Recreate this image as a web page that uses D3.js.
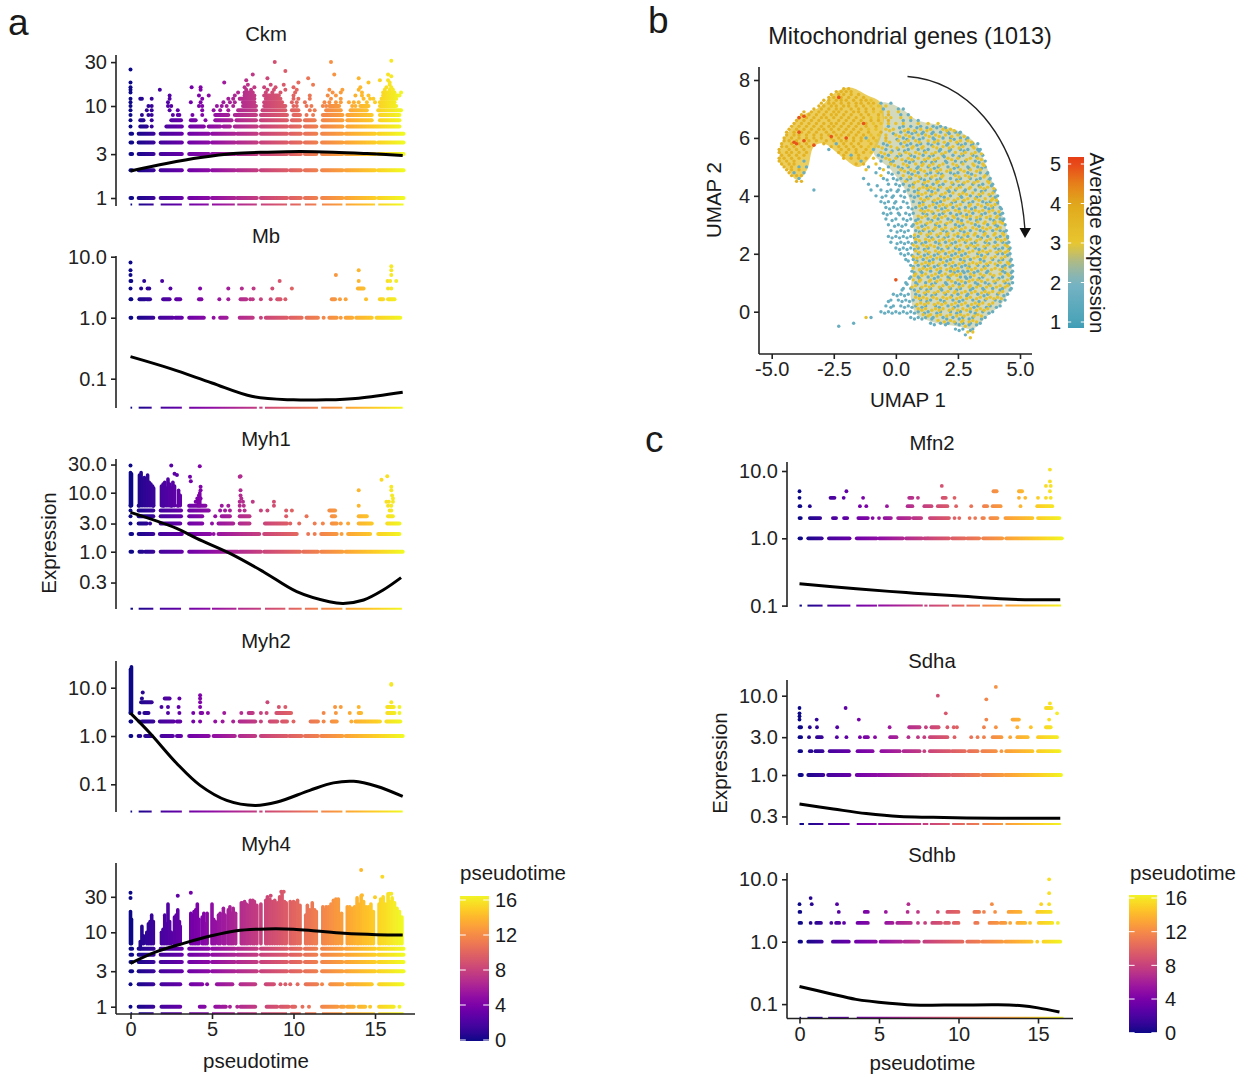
<!DOCTYPE html>
<meta charset="utf-8">
<style>
body { margin: 0; background: #fff; }
text { font-family: "Liberation Sans", Arial, sans-serif; fill: #1a1a1a; }
.axis path, .axis line { stroke: #222; stroke-width: 1.6; fill: none; }
.axis text { font-size: 20px; fill: #222; }
.title { font-size: 20.3px; text-anchor: middle; }
.lab { font-size: 20.5px; text-anchor: middle; }
.letter { font-size: 37px; }
</style>
<body>
<script src="https://d3js.org/d3.v7.min.js"></script>
<script>

// pseudotime stretches occupied by cells, shared by the rows that are solid
var runsA = [[0,.1],[.5,1.42],[1.85,3.15],[3.6,4.8],[5,6.4],[6.55,7.75],[8,9.6],[9.8,10.45],[10.7,11.4],[11.75,13],[13.2,15],[15.2,16.75]];
var runsB = [[0,.1],[.5,1.3],[1.85,3.15],[3.6,7.75],[7.9,8.1],[8.25,11.5],[11.7,13],[13.2,16.7]];
var runsC = [[0,.15],[.5,1.45],[1.75,3.2],[3.57,4.87],[4.95,7.75],[7.85,8.05],[8.15,9.4],[9.57,10.37],[10.5,11.35],[11.5,12.77],[12.95,16.45]];

// rows: [expression, solid runs, single dots]
var ckmRows = [
  [.85,runsA,[]],[1,runsA,[]],[2,runsA,[]],[3,runsA,[]],[4,runsA,[]],[5,runsA,[]],
  [6,[[.6,1],[2.2,3.15],[3.66,4.5],[4.8,5.5],[5.7,6.1],[6.4,7.75],[8,9.6],[9.8,10.4],[10.7,11.4],[11.75,13],[13.3,16.5]],[0,1.3]],
  [7,[[.6,.8],[2.5,3.1],[3.7,4],[5.2,6.2],[6.5,7.7],[8,9.6],[9.9,10.4],[10.7,11.3],[11.8,13],[13.3,14.8],[15.3,16.5]],[0,1.3,4.6]],
  [8,[[5.2,6],[6.4,7.7],[8,9.6],[10,10.4],[11.8,13],[13.3,14.8],[15.3,16.5]],[0,.7,1.1,1.3,2.6,2.9,3,3.8,4.4,10.8,11.2]],
  [9,[[6.6,7.7],[8.1,9.5],[9.9,10.3],[12,12.9],[13.5,14.5],[15.2,16.6]],[0,1,1.3,2.4,2.9,4.4,5.1,5.5,6,11,11.3]],
  [10,[[6.9,7.7],[8.2,9.5],[12.2,12.8],[14.1,14.6],[15.3,16.3]],[0,1.1,1.3,2.3,2.5,4.2,4.4,5.3,5.6,5.9,6.3,10,10.2,10.8,11.1,11.8,12,13.6,13.8]],
  [11,[[6.9,7.6],[8.2,9.3],[15.3,16.2]],[0,2.3,3.7,4.3,5.7,6.1,6.4,9.9,10.2,10.7,11.9,12.2,12.6,12.9,13.4,13.7,14,14.5,15]],
  [12,[[6.7,7.6],[8.3,9.2],[15.4,16.3]],[0,.6,.7,1.3,2.4,4.4,6,6.3,10,10.3,11,12.3,12.9,14.3,14.7,14.9]],
  [13,[[7,7.6],[8.2,9.1],[15.5,16.4]],[2.4,4.2,4.8,6.4,10,11,12.1,12.6,13.8,14.2,14.6,16.5]],
  [14,[[7,7.5],[15.5,16.2]],[0,6.6,8.3,8.7,9.2,10.1,12.4,12.9,14.2,16.6]],
  [15,[],[0,1.8,4.3,7.1,7.4,8.4,8.8,9.5,10.2,12.2,13,14,15.6,15.9,16.1]],
  [16,[],[0,3.75,4.3,7,7.6,8.2,8.9,10,14.1,15.7,16]],
  [17,[],[7.2,8.6,9.4,11.2,15.9]],[18,[],[0,5.75,10.3,14.6,15.9]],[19,[],[7.1,15.3,15.8]],
  [20,[],[8.4,10.9,14]],[21,[],[16]],[22,[],[7.5,12.5,15.8]],[24,[],[9.5]],[25,[],[0]],[30,[],[8.85,12.3]],[31,[],[16]]
];
var ckmCurve = [[0,1.97],[2.2,2.37],[4.3,2.75],[6.3,3.04],[8.4,3.15],[10.4,3.2],[12.45,3.15],[14.5,3.04],[16.7,2.9]];

var mbRows = [
  [.0335,runsB,[]],
  [1,[[.5,1.4],[1.8,2.6],[2.75,3.15],[3.6,4.5],[5.5,5.9],[6.7,7.5],[8.3,9.6],[9.8,10.5],[10.8,11.5],[12.2,12.65],[13.2,13.6],[13.85,14.8],[15.1,16.55]],[0,.05,5.1,8,11.85,12.9]],
  [2,[[.55,.9],[1,1.2],[2,2.4],[2.8,3.05],[4.2,4.35],[6.75,7.1],[9,9.2],[12.35,12.55],[15.3,15.5],[15.8,16.2]],[0,.05,5.45,6,7.35,7.5,8,8.6,9.5,12.85,13.2,14.45]],
  [3,[[13.95,14.3]],[0,.65,1.05,1.15,2.45,4.27,6,6.83,7.55,8.7,9.9,15.8,16]],
  [4,[],[0,.05,.84,1.94,9.15,14,15.77,15.93,16.3]],[5,[],[0,12.6,16]],[6,[],[0,14,16]],[7,[],[16]],[8,[],[0]]
];
var mbCurve = [[0,.23],[2.5,.145],[5,.085],[7.5,.051],[10,.045],[12,.045],[14,.048],[16.7,.06]];

var myh1Rows = [
  [.108,[[0,.15],[.5,1.4],[1.8,3.1],[3.6,4.9],[5,6.5],[6.6,8],[8.25,9.5],[9.7,10.5],[10.7,11.5],[11.7,13],[13.2,16.65]],[]],
  [1,[[0,.1],[.55,.75],[.9,1.4],[1.85,3.15],[3.6,6.6],[6.7,8],[8.2,10.4],[10.6,11.5],[11.7,13],[13.2,16.7]],[]],
  [2,[[0,.1],[.5,1.4],[1.8,3.15],[3.6,4.9],[5.4,7.9],[8.2,10.2],[11.7,12.65],[13.35,14.7],[15.2,16.5]],[5.1,10.9,11.3,12.95]],
  [3,[[.5,1],[1.85,3.05],[3.6,4.4],[5.4,6.3],[6.7,7.3],[8.25,9.6],[12.35,12.65],[14,14.8],[15.75,16.5]],[0,1.2,5,9.8,10.35,11.3,11.8,12.9,13.35]],
  [4,[[.5,1.4],[1.85,3.1],[3.6,4.4],[5.6,6.1],[6.7,7.3],[12.35,12.55],[14,14.5],[15.8,16.1]],[0,5.2,9.55,10.8]],
  [5,[[.5,1.4],[1.85,3.1],[3.6,4.8],[12.2,12.55]],[0,5.5,5.8,6.1,6.7,7,8,8.4,9.55,9.9,15.9,16]],
  [6,[[3.6,4.6]],[0,.5,1.4,2,2.5,2.9,5.6,6,6.7,6.95,8.8,14,15.8,16]],
  [7,[],[4,4.2,6.7,6.9,7.5,8.8,15.7,15.85,16.1]],[8,[],[4.1,4.3,6.8,16.1]],[9,[],[4.2,6.75,16.05]],
  [11,[],[6.75,14,4.3,16]],[12.6,[],[4.3,16]],[15.7,[],[3.7]],[16.5,[],[15.4]],[18.7,[],[3.65,6.7]],[19,[],[6.75,15.75]],
  [20,[],[2.85]],[21,[],[2.7]],[28,[],[4.25]],[29,[],[2.5,0]]
];
var myh1Columns = [[0,6,22],[.06,6,21],[.55,6,20],[.65,6,22],[.75,6,17],[.85,6,18],[.95,6,16],[1.05,6,20],[1.15,6,15],[1.25,6,14],[1.35,6,13],[1.42,6,12],
  [1.9,6,13],[2,6,14],[2.1,6,15],[2.2,6,12],[2.3,6,17],[2.4,6,14],[2.5,6,12],[2.6,6,15],[2.7,6,13],[2.95,6,11],[3.05,6,9],[4.15,6,8],[4.25,6,10]];
var myh1Curve = [[0,4.65],[2.83,2.49],[4.06,1.68],[6.1,.937],[8.15,.458],[10.2,.21],[12.2,.142],[13.05,.133],[14.3,.152],[15.5,.224],[16.6,.363]];

var myh2Rows = [
  [.0273,runsB,[]],
  [1,[[.9,1.3],[1.9,2.6],[2.85,3.1],[3.6,4.8],[5.1,6.4],[6.7,7.65],[8,9.6],[9.75,10.5],[10.7,11.5],[11.7,13],[13.2,16.7]],[0,.05,.5,.6]],
  [2,[[.7,1.4],[1.8,2.65],[2.85,3.05],[6.7,7.65],[8.55,9],[9.3,9.6],[11.05,11.5],[12.35,12.65],[13.8,15.2],[15.7,16.55]],[0,.05,.55,3.85,4.27,5.2,5.65,6.3,8,10,11.85,13.55,15.3]],
  [3,[[.85,1.1],[4.3,4.4],[7.25,7.5],[8.95,9.85],[14,14.15],[15.75,16.2]],[0,.55,2.3,3,3.85,4.75,5.75,6.8,8,8.35,11.85,12.6,13.45,16.5]],
  [4,[[15.75,16.15]],[1.9,2.3,2.95,4.27,9.1,9.5,12.55,12.9,14,16.5]],
  [5,[[.65,1.3]],[4.27,8.4,16]],[6,[[2.1,2.4]],[.7,3,4.27]],[7,[],[4.27]],[8,[],[.75]],[11.5,[],[16]],[12,[],[16]]
];
var myh2Columns = [[0,3,24],[.06,3,27]];
var myh2Curve = [[0,2.97],[1.2,1.14],[2.84,.27],[4.27,.095],[5.9,.0465],[7.65,.0365],[9,.043],[11,.075],[12.45,.107],[13.7,.115],[15.1,.091],[16.7,.056]];

var myh4Rows = [
  [.817,runsA,[]],
  [1,[[.5,1.4],[1.9,3.05],[4.25,4.55],[5.2,5.5],[5.6,5.85],[6.75,7.65],[8.35,9],[9.2,9.7],[9.9,10.1],[11.75,12.7],[12.9,13.1],[13.3,13.7],[14,14.4],[15.25,16.15]],[0,6.1,6.55,10.55,10.95,14.7,16.5]],
  [2,[[.5,1.4],[1.9,3.05],[3.7,4.4],[5.3,6.25],[6.75,7.65],[8.3,8.8],[10.75,11.45],[12.25,13],[13.3,13.7],[13.8,14.8],[15.25,16.7]],[0,4.7,9.2,9.5,9.8,10.25,11.75]],
  [3,runsA,[]],[4,runsA,[]],[5,runsA,[]],[6,runsA,[]]
];
var myh4Columns = [[0,7,19],[.06,7,15],[.6,6,7.5],[.7,7,12],[.8,7,9],[1,7,10],[1.1,7,13],[1.2,7,14],[1.3,7,17],[1.4,7,14],
  [1.9,7,10],[2,7,11],[2.1,7,17],[2.2,7,13],[2.3,7,24],[2.4,7,14],[2.5,7,10],[2.7,7,16],[2.8,7,17],[2.9,7,20],[3,7,14],[3.05,7,12],
  [3.7,7,18],[3.8,7,17],[3.9,7,19],[4,7,20],[4.1,7,24],[4.2,7,15],[4.4,7,16],[4.5,7,18],[4.6,7,13],[4.7,7,18],
  [5,7,24],[5.1,7,15],[5.2,7,14],[5.4,7,17],[5.5,7,18],[5.7,7,21],[5.8,7,17],[6,7,20],[6.1,7,22],[6.2,7,18],[6.3,7,21],[6.45,7,18],
  [6.8,7,25],[6.9,7,25],[7,7,26],[7.1,7,24],[7.2,7,23],[7.35,7,27],[7.5,7,27],[7.6,7,26],[7.75,7,23],
  [8,7,24],[8.3,7,27],[8.4,7,30],[8.55,7,28],[8.7,7,26],[8.85,7,27],[9,7,25],[9.15,7,30],[9.3,7,33],[9.45,7,26],[9.55,7,25],
  [9.8,7,26],[9.9,7,24],[10,7,26],[10.1,7,25],[10.25,7,27],[10.4,7,23],
  [10.75,7,17],[10.85,7,23],[11,7,20],[11.15,7,25],[11.3,7,20],[11.4,7,19],
  [11.8,7,22],[11.9,7,20],[12,7,22],[12.15,7,22],[12.3,7,24],[12.45,7,27],[12.6,7,28],[12.75,7,28],[12.95,7,18],
  [13.3,7,22],[13.45,7,22],[13.6,7,21],[13.75,7,22],[13.9,7,29],[14,7,24],[14.15,7,31],[14.3,7,26],[14.45,7,22],[14.6,7,22],[14.75,7,24],[14.9,7,19],
  [15.25,7,24],[15.35,7,28],[15.5,7,30],[15.65,7,24],[15.8,7,33],[15.9,7,26],[16.05,7,29],[16.2,7,25],[16.35,7,21],[16.5,7,19],[16.65,7,16]];
var myh4Extra = [[29,[],[0]],[31,[],[2.9,8.6]],[34,[],[0,3.7]],[35,[],[9.25,9.4]],[33,[],[15.9,16]],[29.5,[],[15]],[31.5,[],[14.2]],[56,[],[15.45]],[69,[],[14.15]]];
var myh4Curve = [[0,3.83],[1.6,5.5],[3.25,7.1],[4.9,8.9],[6.5,10.5],[8.35,11.1],[10,11],[11.4,10.4],[13.1,9.7],[15.1,9.3],[16.7,9.2]];

var mfn2Rows = [
  [.1,runsC,[]],
  [1,[[0,.1],[.55,1.4],[1.85,3.15],[3.6,4.85],[5,6.5],[6.7,7.7],[7.85,8.05],[8.1,9.4],[9.6,10.4],[10.55,11.3],[11.55,12.75],[13,16.5]],[]],
  [2,[[0,.08],[.65,1.3],[2.1,2.3],[2.8,3],[3.7,4.3],[5.35,5.75],[6.2,6.95],[7.15,7.65],[8.2,9.4],[11.5,11.6],[12,12.45],[12.95,14.65],[15,16.35]],[4.6,5,9.75,10.05,10.7,11.05]],
  [3,[[0,.05],[6.8,7.1],[7.85,8.3],[8.7,9.3],[11.6,11.8],[12.15,12.65],[14.95,15.9]],[.65,3.8,4.2,5.5,9.85,10.8,13.9]],
  [4,[[1.95,2.2],[6.9,7.1],[9,9.2]],[0,2.78,4,7.45,9.75,13.8,14.2,15,15.5,15.8]],
  [5,[[12.2,12.4],[13.8,14]],[0,2.95,15.75]],[6,[],[8.95,15.5,15.8]],[7,[],[15.75]],[10.5,[],[15.75]]
];
var mfn2Curve = [[0,.211],[3.57,.178],[6.7,.156],[9.84,.14],[13,.125],[16.4,.122]];

var sdhaRows = [
  [.241,[[0,.28],[.55,1.5],[1.8,3.15],[3.6,4.85],[4.95,7.65],[7.75,8.1],[8.2,9.45],[9.6,10.4],[10.5,11.3],[11.5,12.8],[12.95,16.45]],[]],
  [1,[[0,.15],[.55,1.5],[1.8,3.15],[3.6,4.85],[4.95,7.65],[7.75,8.1],[8.2,9.45],[9.6,10.4],[10.5,11.3],[11.5,12.8],[12.95,16.45]],[]],
  [2,[[0,.1],[1,1.45],[1.9,3.1],[3.65,4.6],[5.15,6.3],[6.55,7.55],[8.2,9.45],[9.6,10.4],[10.65,11.2],[11.5,12.35],[13,14.65],[15,16.35]],[.65,.75,7.85,12.7]],
  [3,[[0,.1],[1.1,1.4],[4.1,4.3],[5.7,6.1],[8.2,9.3],[12.15,12.7],[13.7,14.35],[15,16.2]],[.6,2.35,2.95,3.8,4.75,6.85,7.45,7.85,9.75,10.8,11.2,11.6,13.25]],
  [4,[[0,.1],[6.9,7.55],[8.3,8.75],[15.5,15.8]],[.65,1.1,2.37,5.67,7.95,9.3,9.7,9.9,11.6,12.35,13.7,14.55]],
  [5,[[13.4,13.8]],[0,1.08,3.73,11.75,15.7]],[5.5,[],[0]],[6,[],[0,9.2,16.2]],[7,[[15.5,15.85]],[0,2.9]],[8,[],[15.75]],[9,[],[11.75]],[10,[],[8.7]],[12.9,[],[12.35]]
];
var sdhaCurve = [[0,.431],[2.13,.373],[4.2,.326],[6.3,.299],[8.4,.293],[10.5,.287],[14.65,.284],[16.4,.284]];

var sdhbRows = [
  [.0603,[[0,.1],[.5,1.45],[1.8,3.1],[3.6,16.6]],[]],
  [1,[[0,.1],[.55,1.4],[2.1,3.1],[3.55,4.8],[5.1,6.4],[6.6,7.5],[7.85,10.25],[10.55,11.3],[11.5,12.75],[12.95,14.6],[15.35,16.4]],[14.95]],
  [2,[[0,.1],[1.05,1.35],[2.3,2.5],[3.65,4.3],[5.45,5.85],[6.15,7],[8.35,8.9],[9.15,9.4],[9.7,10],[11.05,11.2],[11.95,12.45],[12.65,12.95],[13.7,14.2],[15.05,15.9]],[.7,2,2.8,7.45,7.9,13.25,14.5,16.25]],
  [3,[[0,.05],[4.1,4.3],[9.3,10],[11,11.3],[13.15,13.9],[14.95,15.8]],[2.47,5.43,6.8,7.45,8.7,11.6,12.3]],
  [4,[],[0,.77,2.36,6.85,12.1,15.2,15.7]],[5,[],[.7]],[6,[],[15.7]],[10,[],[15.7]]
];
var sdhbCurve = [[0,.192],[1.88,.148],[3.55,.119],[5.64,.103],[7.1,.097],[9.82,.0965],[12.5,.0975],[14,.094],[15,.087],[16.35,.0745]];

// outline of the packed part of the UMAP cloud, the upper left cap and the body
var umapCapOutline = [[-4.66,5.12],[-4.59,5.81],[-4.32,6.21],[-3.85,6.73],[-3.05,7.08],[-2.38,7.6],[-1.84,7.74],[-1.17,7.48],[-.6,7.2],[-.5,6.4],[-.9,5.5],[-1.5,5],[-2.1,5.3],[-2.91,5.81],[-3.3,5.7],[-3.58,4.89],[-3.98,4.55],[-4.39,4.95]];
var umapBodyOutline = [[-.6,7.2],[-.23,7.19],[.31,6.96],[.85,6.62],[1.79,6.44],[2.59,6.21],[3.26,5.75],[3.66,5],[4,4.2],[4.27,3.4],[4.54,2.47],[4.67,1.55],[4.63,.86],[4.27,.29],[3.66,-.17],[3.13,-.58],[2.46,-.5],[1.65,-.4],[.85,-.1],[.6,.5],[.7,1.55],[.7,2.2],[.7,3.2],[.5,4],[-.2,4.9],[-.9,5.5],[-.5,6.4]];

// UMAP cells by expression group, one row per UMAP 2 value: [y, x, x, ...]
var umapTealExpr = 1.65, umapGoldExpr = 3.15, umapHighExpr = 3.65, umapPeakExpr = 4.9;
var umapTeal = [
  [7.2,-.6,-.2],[7,-.5,.1,.3],[6.8,.2,.5],[6.6,.3,.6,.9],[6.4,-.3,.3,.6,1,1.5,1.8],[6.2,.2,.5,.8,1.1,1.5,1.8,2.1,2.4,2.6],
  [6,-1.2,.3,.7,1.1,1.5,1.9,2.2,2.6,2.9],[5.8,-2.4,-.5,.2,.6,1,1.3,1.7,2.1,2.5,2.8,3.1,3.3],[5.6,-2.7,-.9,-.4,.1,.5,.9,1.3,1.8,2.2,2.6,2.9,3.3,3.4],
  [5.4,-1.8,-.7,-.3,.2,.6,1.1,1.5,1.9,2.3,2.7,3.1,3.5],[5.2,-3.7,-1.4,-.6,-.1,.4,.7,1.2,1.6,2,2.4,2.8,3.2,3.6],[5,-3.9,-3.6,-1.1,-.3,.1,.5,.9,1.3,1.7,2.1,2.5,2.9,3.3,3.6],
  [4.8,-4.1,-3.7,-.8,-.3,.1,.5,.9,1.4,1.7,2.2,2.5,2.9,3.4,3.7],[4.6,-3.9,-1.3,-.5,-.1,.2,.6,1,1.4,1.8,2.2,2.6,3,3.4,3.8],[4.4,-1.1,-.3,0,.3,.7,1.1,1.5,1.9,2.3,2.7,3.1,3.5,3.9],
  [4.2,-3.3,-1,-.6,-.2,.1,.5,.9,1.3,1.7,2.1,2.4,2.8,3.2,3.6,4],[4,-.8,-.4,-.1,.2,.6,.9,1.4,1.8,2.2,2.6,3,3.4,3.8,4.1],[3.8,-.6,-.3,0,.3,.7,1.1,1.5,1.8,2.4,2.7,3.1,3.5,3.8,4.1],
  [3.6,-.4,-.1,.2,.5,.8,1.2,1.6,2,2.3,2.8,3.2,3.6,3.9,4.2],[3.4,-.5,-.2,.1,.4,.7,1.1,1.5,1.9,2.2,2.6,3.1,3.6,4,4.3],[3.2,-.4,0,.3,.6,.9,1.3,1.7,2.1,2.5,3,3.4,3.8,4.2,4.35],
  [3,-.3,.1,.4,.7,1.2,1.6,2,2.4,2.7,3.2,3.7,4,4.4],[2.8,-.2,.2,.5,.8,1.1,1.5,1.9,2.3,2.6,3,3.4,3.9,4.2,4.45],[2.6,-.3,0,.3,.6,.9,1.3,1.7,2.1,2.5,2.9,3.3,3.7,4.2,4.5],
  [2.4,-.2,.2,.5,.8,1.2,1.6,2,2.4,2.8,3.2,3.6,4,4.3,4.55],[2.2,0,.3,.6,.9,1.3,1.7,2.1,2.4,2.9,3.2,3.6,4,4.3,4.6],[2,.2,.5,.9,1.3,1.7,2,2.4,2.8,3.3,3.7,4.1,4.3,4.6],
  [1.8,.4,.7,1.1,1.5,1.8,2.2,2.6,3,3.4,3.9,4.3,4.65],[1.6,.6,.9,1.3,1.7,2,2.4,2.8,3.3,3.7,4.1,4.4,4.7],[1.4,.65,1,1.4,1.8,2.2,2.5,2.7,2.9,3.3,3.7,4.3,4.7],
  [1.2,.6,.9,1.3,1.7,2.1,2.6,2.8,3,3.5,3.9,4.3,4.7],[1,.4,.8,1.2,1.6,2,2.4,2.8,3.2,3.6,4,4.4,4.7],[.8,.3,.6,1,1.4,1.8,2.2,2.6,3.1,3.5,3.9,4.3,4.65],
  [.6,-.1,.2,.5,.8,1.2,1.6,2,2.5,2.9,3.3,3.7,4.1,4.5],[.4,-.2,.1,.4,.7,1,1.4,1.8,2.3,2.7,3.1,3.6,4,4.4],[.2,-.4,-.1,.2,.5,.8,1.2,1.6,2.1,2.5,2.9,3.3,3.8,4.2],
  [0,-.6,-.3,0,.3,.6,.9,1.3,1.8,2.2,2.6,3,3.5,3.9],[-.2,-1,.6,.9,1.2,1.5,1.9,2.3,2.7,3.1,3.6],[-.4,-1.7,1.4,1.8,2.1,2.4,2.7,3,3.4],[-.5,-2.3],[-.6,2.4,2.7,3.1],[-.8,2.8],
  [6.35,.15,.85,1.25,1.65,2],[6.15,-.1,.65,1.05,1.45,2.15,2.55],[5.95,.05,.45,.95,1.55,2.35,2.85],[5.75,-.35,.45,.85,1.45,2.05,2.65,3.05],[5.55,-.15,.35,1.15,1.75,2.15,2.75,3.35],
  [5.35,-.55,.05,.75,1.35,1.95,2.55,3.25],[5.15,-.2,.55,1.05,1.45,2.05,2.65,3.35],[4.95,-.65,.25,.85,1.55,2.35,2.95,3.45],[4.75,-.15,.65,1.25,1.85,2.35,3.05,3.65],[4.55,-.35,.05,.45,1.15,1.65,2.45,3.25,3.75],
  [4.35,-.75,.15,.55,1.25,1.75,2.55,3.35,3.85],[4.15,-.35,.05,.35,.75,1.45,2.15,2.75,3.45,3.95],[3.95,-.55,-.15,.35,.75,1.25,1.95,2.65,3.25,4],[3.75,-.45,-.05,.45,.95,1.65,2.25,2.95,3.65,4.1],[3.55,-.25,.05,.65,1.05,1.85,2.55,3.05,3.75,4.25],
  [3.35,-.35,.15,.55,1.25,1.75,2.45,2.85,3.45,4.2],[3.15,-.15,.45,.8,1.45,2.25,2.65,3.25,3.95,4.3],[2.95,-.05,.25,.65,1.05,1.75,2.55,3.35,4.1],[2.75,.05,.35,.95,1.35,2.05,2.75,3.55,4.35],[2.55,-.15,.15,.45,.75,1.45,1.95,2.65,3.45,4.05,4.5],
  [2.35,.05,.35,.65,1.05,1.75,2.25,3.05,3.75,4.45],[2.15,.15,.45,.75,1.15,1.85,2.55,3.35,4.15,4.55],[1.95,.35,.65,1.15,1.55,2.25,2.65,3.45,4.5],[1.75,.5,.85,1.35,2.05,2.75,3.55,4.15,4.6],[1.55,.7,1.15,1.55,2.25,2.65,2.95,3.55,4.3,4.6],
  [1.35,.75,1.05,1.75,2.35,2.75,3.15,3.65,4.4,4.65],[1.15,.55,.95,1.55,2.15,2.85,3.35,4.15,4.65],[.95,.45,.85,1.45,2.05,2.55,3.3,3.75,4.55],[.75,.25,.75,1.25,1.85,2.45,3,3.55,4.2,4.6],[.55,.05,.35,.95,1.45,2.25,2.85,3.55,4.35],
  [.35,-.3,.25,.55,1.25,1.95,2.55,3.35,4.2],[.15,-.2,.35,.65,1.05,1.75,2.35,3.15,3.65,4.05],[-.05,-.45,-.15,.15,.45,.75,1.15,1.65,2.45,3.2,3.75],[-.25,.75,1.05,1.45,2.05,2.55,2.95,3.45],[-.45,1.55,2,2.55,2.95,3.25],[-.65,2.55,3]
];
var umapGold = [
  [7.3,-1],[7.1,-1,-.7,-.4],[6.9,-.9,-.6,-.3,.1],[6.7,-1,-.7,-.4,-.2,.2,.6],[6.5,-.9,-.6,-.3,0,.3,.9,1.3,1.7],[6.3,-1.1,-.8,-.4,-.1,.5,1,1.4,1.9,2.2],
  [6.1,-1,-.7,-.4,0,.4,.9,1.2,1.6,2,2.5],[5.9,-1.1,-.8,-.4,.1,.5,.8,1.3,1.7,2.2,2.6,2.9],[5.7,-1.1,-.7,-.2,.3,.7,1.1,1.5,1.9,2.3,2.7,3.1],[5.5,-1,-.6,-.2,.4,.8,1.2,1.6,2,2.4,2.8,3.2],
  [5.3,-.9,-.4,0,.5,.9,1.3,1.7,2.1,2.5,3,3.3],[5.1,-.8,-.2,.3,.8,1.1,1.5,1.9,2.3,2.7,3.1,3.5],[4.9,-1.2,-.5,.2,.6,1,1.4,1.8,2.2,2.6,3,3.4],[4.7,-.6,.3,.8,1.2,1.6,1.9,2.4,2.8,3.2,3.6],
  [4.5,.4,.9,1.3,1.7,2,2.5,2.9,3.3,3.7],[4.3,.7,1.1,1.4,1.8,2.2,2.6,3,3.4,3.7],[4.1,.9,1.2,1.6,2,2.3,2.7,3.1,3.5,3.9],[3.9,1,1.3,1.7,2.1,2.5,2.9,3.2,3.6,3.9],[3.7,1.1,1.5,1.9,2.2,2.6,3,3.3,3.7,4],
  [3.5,1,1.3,1.7,2.1,2.4,2.8,3.2,3.5,3.9],[3.3,.9,1.2,1.6,2,2.3,2.7,3,3.4,3.8,4.1],[3.1,1,1.4,1.8,2.2,2.5,2.9,3.3,3.6,4,4.2],[2.9,.9,1.3,1.6,2,2.4,2.8,3.1,3.5,3.8,4.2],[2.7,1,1.4,1.8,2.1,2.5,2.9,3.2,3.6,4,4.3],
  [2.5,.8,1.2,1.5,1.9,2.3,2.7,3,3.4,3.8,4.1,4.4],[2.3,.7,1.1,1.4,1.8,2.2,2.6,3,3.3,3.7,4.1,4.4],[2.1,.8,1.2,1.6,1.9,2.3,2.7,3.1,3.5,3.8,4.2,4.5],[1.9,.7,1,1.4,1.8,2.1,2.5,2.9,3.3,3.6,4,4.4],
  [1.7,.8,1.2,1.5,1.9,2.3,2.7,3.1,3.4,3.8,4.2,4.5],[1.5,.7,1.1,1.4,1.8,2.2,2.5,2.9,3.2,3.6,4,4.4],[1.3,.8,1.2,1.6,2,2.3,2.6,3,3.4,3.8,4.2,4.5],[1.1,.7,1,1.4,1.8,2.1,2.5,3.1,3.3,3.7,4.1,4.5],
  [.9,.8,1.2,1.5,1.9,2.3,2.7,3,3.4,3.8,4.2,4.5],[.7,.9,1.3,1.7,2.1,2.4,2.8,3.2,3.6,3.9,4.3],[.5,.8,1.1,1.5,1.9,2.2,2.6,3,3.4,3.8,4.1],[.3,1,1.3,1.7,2,2.4,2.8,3.2,3.5,3.9],[.1,.9,1.2,1.6,1.9,2.3,2.7,3,3.4,3.7],
  [-.1,1.1,1.4,1.8,2.2,2.6,2.9,3.3],[-.2,-1.2],[-.3,1.7,2.2,2.7,3.1],[-.5,2.8],[-.7,2.9,3.1],[-.9,3],
  [6.25,-.25,.35,.75,1.25,2.05,2.35],[6.05,.15,.55,1.35,1.75,2.25,2.75],[5.85,-.25,.35,.95,1.55,1.95,2.45,3.05],[5.65,-.55,.05,.65,1.05,1.65,2.15,2.55,3.15],[5.45,-.45,.15,.55,.95,1.45,1.85,2.65,3.05,3.45],
  [5.25,-.25,.25,.65,1.15,1.55,2.25,2.85,3.45],[5.05,-.05,.45,1.05,1.35,1.75,2.45,3.15,3.55],[4.85,.35,.75,1.15,1.65,2.05,2.75,3.25],[4.65,.55,.95,1.45,1.85,2.55,2.95,3.55],[4.45,.75,1.15,1.65,2.25,2.75,3.15,3.75],
  [4.25,.95,1.25,1.55,2.05,2.45,2.95,3.55,3.95],[4.05,1.05,1.45,1.85,2.55,2.85,3.35,3.75],[3.85,1.15,1.55,1.95,2.35,2.75,3.35,3.85,4.05],[3.65,.95,1.35,1.75,2.05,2.45,2.95,3.45,3.85],[3.45,1.15,1.45,1.95,2.55,2.95,3.35,3.75,4.15],
  [3.25,1.05,1.55,1.85,2.35,2.85,3.25,3.65,4.05],[3.05,.85,1.25,1.65,2.05,2.65,3.05,3.55,3.95,4.3],[2.85,1.15,1.55,1.85,2.25,2.65,3.25,3.65,4.05],[2.65,.75,1.25,1.65,2.05,2.35,2.75,3.15,3.55,3.95,4.35],[2.45,.95,1.35,1.75,2.15,2.55,2.85,3.25,3.65,4.25],
  [2.25,.85,1.25,1.55,2.05,2.45,2.85,3.15,3.55,3.95,4.5],[2.05,.95,1.35,1.75,2.15,2.55,2.95,3.35,3.65,4.05,4.4],[1.85,.85,1.25,1.65,1.95,2.35,2.75,3.15,3.55,3.85,4.25],[1.65,1.05,1.35,1.75,2.15,2.55,2.95,3.25,3.65,4,4.55],[1.45,.95,1.25,1.65,2.05,2.35,3.05,3.45,3.85,4.2],
  [1.25,.75,1.05,1.45,1.85,2.2,2.45,3.15,3.55,3.95,4.55],[1.05,.95,1.35,1.65,2.25,2.65,2.95,3.45,3.95,4.35],[.85,.65,1.05,1.35,1.75,2.15,2.55,2.95,3.25,3.65,4.05,4.4],[.65,1.15,1.55,1.95,2.35,2.65,3.05,3.45,3.75,4.15],[.45,.95,1.25,1.65,2.05,2.45,2.85,3.25,3.65,3.95,4.25],
  [.25,.85,1.15,1.55,1.85,2.25,2.65,3.05,3.35,3.75],[.05,1.05,1.45,1.75,2.15,2.5,2.85,3.25,3.55],[-.15,1.3,1.65,2.05,2.45,2.75,3.15,3.45],[-.35,1.95,2.35,2.65,2.95,3.25]
];
var umapHigh = [
  [7.7,-2.1,-1.9],[7.6,-2.4,-2.2,-2,-1.8],[7.5,-2.6,-2.3,-2.1,-1.8,-1.5],[7.4,-2.7,-2.5,-2.2,-1.9,-1.6,-1.3],[7.3,-2.9,-2.7,-2.4,-2.2,-2,-1.7,-1.4,-1.2],
  [7.2,-3,-2.7,-2.5,-2.2,-1.9,-1.6,-1.4,-1.1,-.9],[7.1,-3.1,-2.9,-2.6,-2.4,-2.1,-1.9,-1.6,-1.3],[7,-3.3,-3,-2.7,-2.4,-2.2,-1.8,-1.5,-1.2,-.9],[6.9,-3.7,-3.4,-3.1,-2.8,-2.5,-2.3,-2,-1.7,-1.5,-1.2],
  [6.8,-3.8,-3.5,-3.2,-2.9,-2.6,-2.4,-2.1,-1.8,-1.4,-1.1,-.7,-.3],[6.7,-3.9,-3.6,-3.3,-3,-2.8,-2.5,-2.2,-1.9,-1.6,-1.3],[6.6,-4,-3.7,-3.4,-3.1,-2.7,-2.3,-2,-1.7,-1.4,-1,-.7,-.3],
  [6.5,-4.1,-3.8,-3.5,-3.2,-2.9,-2.6,-2.4,-2.1,-1.8,-1.5,-1.2],[6.4,-4.2,-3.9,-3.6,-3.3,-3,-2.7,-2.5,-2.2,-1.9,-1.6,-1.2,-.8],[6.3,-4.3,-4,-3.7,-3.4,-3.1,-2.9,-2.6,-2.3,-2,-1.7,-1.4],
  [6.2,-4.4,-4.1,-3.8,-3.5,-3.2,-2.8,-2.5,-2.1,-1.8,-1.5,-1.1,-.6],[6.1,-4.4,-4.1,-3.9,-3.6,-3.3,-3,-2.7,-2.4,-2.2,-1.9,-1.6,-1.3],[6,-4.5,-4.2,-3.9,-3.6,-3.3,-3,-2.6,-2.3,-2,-1.7,-1.4,-.9,-.4],
  [5.9,-4.5,-4.3,-4,-3.7,-3.5,-3.2,-2.8,-2.5,-2.2,-2,-1.7,-1.4],[5.8,-4.6,-4.2,-3.9,-3.6,-2.9,-2.1,-1.8,-1.5,-1],[5.7,-4.6,-4.4,-4.1,-3.8,-3.5,-2.6,-2.3,-2,-1.7,-1.4],[5.6,-4.7,-4.3,-4,-3.7,-2.2,-1.9,-1.6,-1.2],
  [5.5,-4.7,-4.4,-4.2,-3.9,-3.6,-2.3,-2,-1.6,-1.3],[5.4,-4.6,-4.3,-4,-3.7,-2.1,-1.5],[5.3,-4.7,-4.5,-4.2,-3.9,-2.1,-1.8,-1.5,-1.2],[5.2,-4.7,-4.4,-4.1],[5.1,-4.6,-4.3,-4.1,-1.6,-1.3],[5,-4.5,-4.2],
  [4.9,-4.4,-4.2,-3.9],[4.8,-4.3],[4.7,-4.2,-4,-3.8],[4.5,-4,-3.8]
];
var umapPeak = [[6.7,-3.9],[6.75,-3.7],[7.4,-2.3],[6.5,-1.3],[6.2,-3.9],[5.85,-4.1],[5.8,-4],[5.9,-3.7],[5.75,-3.3],[6.05,-2.6],[6,-2],[1.1,0]];

var tickCkm = [1,3,10,30], tickMb = [.1,1,10], tickMyh1 = [.3,1,3,10,30], tickMyh4 = [1,3,10,30], tickSdha = [.3,1,3,10];
var xTicks = [0,5,10,15], legendTicks = [0,4,8,12,16], exprTicks = [1,2,3,4,5];
var umapXTicks = [-5,-2.5,0,2.5,5], umapXLabels = ["-5.0","-2.5","0.0","2.5","5.0"], umapYTicks = [0,2,4,6,8];

var svg = d3.select("body").append("svg").attr("width", 1246).attr("height", 1074);
var defs = svg.append("defs");

var pseudoColor = d3.scaleSequential(d3.interpolatePlasma).domain([0, 16.7]);
var xA = d3.scaleLinear().domain([0, 15]).range([130.5, 375]);
var xC = d3.scaleLinear().domain([0, 15]).range([799.5, 1038]);

function addGradient(id, x) {
  var g = defs.append("linearGradient").attr("id", id).attr("gradientUnits", "userSpaceOnUse")
      .attr("x1", x(0)).attr("x2", x(16.7)).attr("y1", 0).attr("y2", 0);
  d3.range(0, 1.01, .1).forEach(function(t) {
    g.append("stop").attr("offset", t).attr("stop-color", d3.interpolatePlasma(t));
  });
}
addGradient("plasmaA", xA);
addGradient("plasmaC", xC);

function panel(o) {
  var g = svg.append("g");
  var y = d3.scaleLog().domain(o.domain).range(o.range);
  var grad = "url(#" + o.grad + ")";

  (o.columns || []).forEach(function(c) {
    g.append("line").attr("x1", o.x(c[0])).attr("x2", o.x(c[0]))
        .attr("y1", y(c[1])).attr("y2", y(c[2]))
        .attr("stroke", pseudoColor(c[0])).attr("stroke-width", 3.6).attr("stroke-linecap", "round");
  });

  o.rows.forEach(function(r, i) {
    var zero = i == 0;
    g.selectAll(null).data(r[1]).enter().append("line")
        .attr("x1", function(d) { return o.x(d[0]); })
        .attr("x2", function(d) { return o.x(d[1]) + .01; })
        .attr("y1", y(r[0]))
        .attr("y2", y(r[0]))
        .attr("stroke", grad)
        .attr("stroke-width", zero ? 2 : o.r * 2)
        .attr("stroke-linecap", zero ? "butt" : "round");
    g.selectAll(null).data(r[2]).enter().append("circle")
        .attr("cx", function(d) { return o.x(d); })
        .attr("cy", y(r[0]))
        .attr("r", o.r)
        .attr("fill", function(d) { return pseudoColor(d); });
  });

  g.append("path").datum(o.curve)
      .attr("fill", "none").attr("stroke", "#000").attr("stroke-width", 3)
      .attr("d", d3.line().curve(d3.curveCatmullRom.alpha(.5))
        .x(function(d) { return o.x(d[0]); })
        .y(function(d) { return y(d[1]); }));

  var axis = g.append("g").attr("class", "axis").attr("transform", "translate(" + o.axisX + ",0)")
      .call(d3.axisLeft(y).tickValues(o.ticks).tickSize(5).tickPadding(4).tickFormat(o.fmt));
  axis.select(".domain").remove();
  axis.append("line").attr("y1", o.axisTop).attr("y2", o.axisBottom);

  g.append("text").attr("class", "title").attr("x", o.titleX).attr("y", o.titleY).text(o.title);

  if (o.xAxis) {
    var xa = g.append("g").attr("class", "axis").attr("transform", "translate(0," + o.axisBottom + ")")
        .call(d3.axisBottom(o.x).tickValues(xTicks).tickSize(5).tickFormat(d3.format("d")));
    xa.select(".domain").remove();
    xa.append("line").attr("x1", o.axisX).attr("x2", o.xEnd);
  }
}

var fmt0 = d3.format("d"), fmt1 = d3.format(".1f");

panel({title:"Ckm", rows:ckmRows, curve:ckmCurve, x:xA, grad:"plasmaA", r:2, domain:[1,10], range:[198,106], ticks:tickCkm, fmt:fmt0, axisX:116, axisTop:55, axisBottom:206, titleX:266, titleY:41});
panel({title:"Mb", rows:mbRows, curve:mbCurve, x:xA, grad:"plasmaA", r:2, domain:[1,10], range:[317.7,256.7], ticks:tickMb, fmt:fmt1, axisX:116, axisTop:256, axisBottom:408, titleX:266, titleY:243});
panel({title:"Myh1", rows:myh1Rows, columns:myh1Columns, curve:myh1Curve, x:xA, grad:"plasmaA", r:2, domain:[1,10], range:[551.7,492.7], ticks:tickMyh1, fmt:fmt1, axisX:116, axisTop:459, axisBottom:609, titleX:266, titleY:446});
panel({title:"Myh2", rows:myh2Rows, columns:myh2Columns, curve:myh2Curve, x:xA, grad:"plasmaA", r:2, domain:[1,10], range:[736,687.7], ticks:tickMb, fmt:fmt1, axisX:116, axisTop:661, axisBottom:812, titleX:266, titleY:648});
panel({title:"Myh4", rows:myh4Rows.concat(myh4Extra), columns:myh4Columns, curve:myh4Curve, x:xA, grad:"plasmaA", r:2, domain:[1,10], range:[1006.7,932.3], ticks:tickMyh4, fmt:fmt0, axisX:116, axisTop:863, axisBottom:1014, titleX:266, titleY:851, xAxis:true, xEnd:415});

panel({title:"Mfn2", rows:mfn2Rows, curve:mfn2Curve, x:xC, grad:"plasmaC", r:1.9, domain:[1,10], range:[538.3,471], ticks:tickMb, fmt:fmt1, axisX:787, axisTop:462, axisBottom:607, titleX:932, titleY:450});
panel({title:"Sdha", rows:sdhaRows, curve:sdhaCurve, x:xC, grad:"plasmaC", r:1.9, domain:[1,10], range:[775,695.7], ticks:tickSdha, fmt:fmt1, axisX:787, axisTop:680, axisBottom:825, titleX:932, titleY:668});
panel({title:"Sdhb", rows:sdhbRows, curve:sdhbCurve, x:xC, grad:"plasmaC", r:1.9, domain:[1,10], range:[941.7,879.3], ticks:tickMb, fmt:fmt1, axisX:787, axisTop:873, axisBottom:1018.5, titleX:932, titleY:862, xAxis:true, xEnd:1073});

// UMAP
var uX = d3.scaleLinear().domain([-5, 5]).range([771.7, 1020]);
var uY = d3.scaleLinear().domain([0, 8]).range([311.7, 80]);
var exprColor = d3.scaleLinear()
    .domain([.85, 1, 2, 2.5, 3, 4, 4.5, 5, 5.2])
    .range(["#3f9cb6", "#4aa3b8", "#78b4c4", "#a9b98f", "#e8c630", "#e0a81c", "#e6801a", "#e8481a", "#e63c14"]);

var outline = d3.line().curve(d3.curveCatmullRomClosed.alpha(.5))
    .x(function(d) { return uX(d[0]); })
    .y(function(d) { return uY(d[1]); });
svg.append("path").attr("d", outline(umapBodyOutline)).attr("fill", exprColor(2.55)).attr("opacity", .55);
svg.append("path").attr("d", outline(umapCapOutline)).attr("fill", exprColor(3.3)).attr("opacity", .75);

function umapGroup(rows, expr) {
  var u = svg.append("g");
  rows.forEach(function(r) {
    u.selectAll(null).data(r.slice(1)).enter().append("circle")
        .attr("cx", function(d) { return uX(d); })
        .attr("cy", uY(r[0]))
        .attr("r", 1.7)
        .attr("fill", exprColor(expr));
  });
}
umapGroup(umapTeal, umapTealExpr);
umapGroup(umapGold, umapGoldExpr);
umapGroup(umapHigh, umapHighExpr);
svg.append("g").selectAll("circle").data(umapPeak).enter().append("circle")
    .attr("cx", function(d) { return uX(d[1]); })
    .attr("cy", function(d) { return uY(d[0]); })
    .attr("r", 1.8)
    .attr("fill", exprColor(umapPeakExpr));

var ux = svg.append("g").attr("class", "axis").attr("transform", "translate(0,354)")
    .call(d3.axisBottom(uX).tickValues(umapXTicks).tickSize(5).tickFormat(function(d, i) { return umapXLabels[i]; }));
ux.select(".domain").remove();
ux.append("line").attr("x1", 759).attr("x2", 1032);
var uy = svg.append("g").attr("class", "axis").attr("transform", "translate(759,0)")
    .call(d3.axisLeft(uY).tickValues(umapYTicks).tickSize(5).tickPadding(4).tickFormat(d3.format("d")));
uy.select(".domain").remove();
uy.append("line").attr("y1", 67).attr("y2", 354);

svg.append("text").attr("x", 910).attr("y", 44).attr("text-anchor", "middle").style("font-size", "23.4px").text("Mitochondrial genes (1013)");
svg.append("text").attr("class", "lab").attr("x", 908).attr("y", 407).text("UMAP 1");
svg.append("text").attr("class", "lab").attr("transform", "translate(721,200) rotate(-90)").text("UMAP 2");

// trajectory arrow
svg.append("path").attr("d", "M907.5,76.5 C962,80 1018,130 1025,230").attr("fill", "none").attr("stroke", "#222").attr("stroke-width", 1.4);
svg.append("path").attr("d", "M1019.5,228 L1031,228 L1025,238 Z").attr("fill", "#111");

// colour legends
function legend(id, interp, scale, x, w, top, bottom, ticks, lo, hi, anchor, labelX) {
  var g = defs.append("linearGradient").attr("id", id).attr("x1", 0).attr("x2", 0).attr("y1", 1).attr("y2", 0);
  d3.range(0, 1.001, .05).forEach(function(t) {
    g.append("stop").attr("offset", t).attr("stop-color", interp(lo + t * (hi - lo)));
  });
  svg.append("rect").attr("x", x).attr("y", top).attr("width", w).attr("height", bottom - top).attr("fill", "url(#" + id + ")");
  ticks.forEach(function(t) {
    [[x, x + w / 5], [x + w * 4 / 5, x + w]].forEach(function(s) {
      svg.append("line").attr("x1", s[0]).attr("x2", s[1]).attr("y1", scale(t)).attr("y2", scale(t)).attr("stroke", "#fff").attr("stroke-width", 1);
    });
    svg.append("text").attr("x", labelX).attr("y", scale(t)).attr("dy", ".36em").attr("text-anchor", anchor).style("font-size", "20px").text(t);
  });
}
legend("legA", pseudoColor, d3.scaleLinear().domain([0, 16]).range([1040, 900]), 460, 29, 896, 1041, legendTicks, 0, 16.5, "start", 495);
legend("legC", pseudoColor, d3.scaleLinear().domain([0, 16]).range([1032.7, 898]), 1129, 28, 895, 1033, legendTicks, 0, 16.4, "start", 1165);
legend("legU", exprColor, d3.scaleLinear().domain([1, 5]).range([322, 164]), 1068, 16, 157, 328, exprTicks, .85, 5.18, "end", 1061);

svg.append("text").attr("x", 460).attr("y", 880).style("font-size", "20.5px").text("pseudotime");
svg.append("text").attr("x", 1130).attr("y", 880).style("font-size", "20.5px").text("pseudotime");
svg.append("text").attr("class", "lab").attr("transform", "translate(1090,243) rotate(90)").text("Average expression");

svg.append("text").attr("class", "lab").attr("x", 256).attr("y", 1068).text("pseudotime");
svg.append("text").attr("class", "lab").attr("x", 922.5).attr("y", 1070).text("pseudotime");
svg.append("text").attr("class", "lab").attr("transform", "translate(56,543) rotate(-90)").text("Expression");
svg.append("text").attr("class", "lab").attr("transform", "translate(727,763) rotate(-90)").text("Expression");

svg.append("text").attr("class", "letter").attr("x", 8).attr("y", 35).text("a");
svg.append("text").attr("class", "letter").attr("x", 648).attr("y", 33).text("b");
svg.append("text").attr("class", "letter").attr("x", 645).attr("y", 452).text("c");

</script>
